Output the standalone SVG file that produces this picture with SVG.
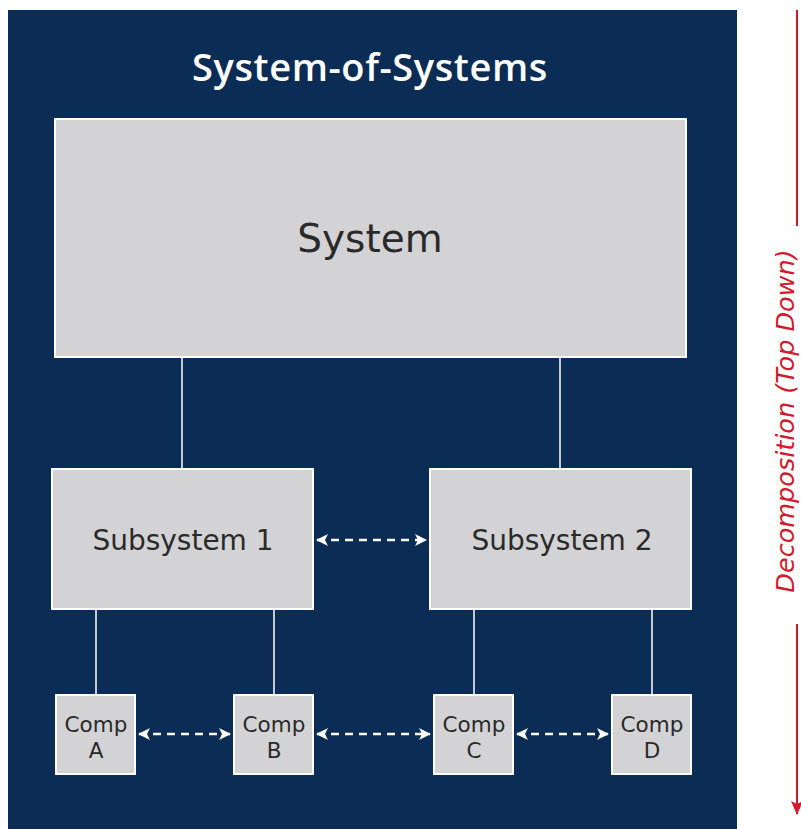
<svg xmlns="http://www.w3.org/2000/svg" width="801" height="829" viewBox="0 0 801 829">
<style>
.box{fill:#d3d3d5;stroke:#ffffff;stroke-width:2}
.lbl{font-family:"DejaVu Sans","Liberation Sans",sans-serif;fill:#2a2a2a;text-anchor:middle}
.conn{stroke:#ffffff;stroke-width:1.5;fill:none}
.dash{stroke:#ffffff;stroke-width:2.5;stroke-dasharray:8 6;fill:none;marker-start:url(#ah);marker-end:url(#ah)}
</style>
<defs>
<marker id="ah" viewBox="0 0 12 12" refX="11" refY="6" markerWidth="12" markerHeight="12" markerUnits="userSpaceOnUse" orient="auto-start-reverse">
<path d="M0,0 L12,6 L0,12 L3,6 Z" fill="#ffffff"/>
</marker>
<marker id="rh" viewBox="0 0 12 14" refX="6" refY="13" markerWidth="12" markerHeight="14" markerUnits="userSpaceOnUse" orient="0">
<path d="M0,0 L6,14 L12,0 L6,3 Z" fill="#d7182a"/>
</marker>
</defs>
<rect width="801" height="829" fill="#ffffff"/>
<g id="sos">
<rect x="8" y="10" width="729" height="819" fill="#0b2c54"/>
<text x="370" y="81" font-family="'Open Sans','DejaVu Sans',sans-serif" font-weight="600" font-size="38" letter-spacing="0.6" fill="#ffffff" text-anchor="middle">System-of-Systems</text>
</g>
<g id="connectors">
<line class="conn" x1="182" y1="357" x2="182" y2="469"/>
<line class="conn" x1="560" y1="357" x2="560" y2="469"/>
<line class="conn" x1="96" y1="609" x2="96" y2="695"/>
<line class="conn" x1="274" y1="609" x2="274" y2="695"/>
<line class="conn" x1="474" y1="609" x2="474" y2="695"/>
<line class="conn" x1="652" y1="609" x2="652" y2="695"/>
<line class="dash" x1="317" y1="540" x2="426" y2="540"/>
<line class="dash" x1="139" y1="734" x2="230" y2="734"/>
<line class="dash" x1="317" y1="734" x2="430" y2="734"/>
<line class="dash" x1="517" y1="734" x2="608" y2="734"/>
</g>
<g id="system">
<rect class="box" x="55" y="119" width="631" height="238"/>
<text class="lbl" x="370" y="252" font-size="39">System</text>
</g>
<g id="subsystem1">
<rect class="box" x="52" y="469" width="261" height="140"/>
<text class="lbl" x="183" y="550" font-size="28">Subsystem 1</text>
</g>
<g id="subsystem2">
<rect class="box" x="430" y="469" width="261" height="140"/>
<text class="lbl" x="562" y="550" font-size="28">Subsystem 2</text>
</g>
<g id="compA">
<rect class="box" x="56" y="695" width="79" height="79"/>
<text class="lbl" font-size="21.5"><tspan x="96" y="732">Comp</tspan><tspan x="96" y="758">A</tspan></text>
</g>
<g id="compB">
<rect class="box" x="234" y="695" width="79" height="79"/>
<text class="lbl" font-size="21.5"><tspan x="274" y="732">Comp</tspan><tspan x="274" y="758">B</tspan></text>
</g>
<g id="compC">
<rect class="box" x="434" y="695" width="79" height="79"/>
<text class="lbl" font-size="21.5"><tspan x="474" y="732">Comp</tspan><tspan x="474" y="758">C</tspan></text>
</g>
<g id="compD">
<rect class="box" x="612" y="695" width="79" height="79"/>
<text class="lbl" font-size="21.5"><tspan x="652" y="732">Comp</tspan><tspan x="652" y="758">D</tspan></text>
</g>
<g id="decomposition">
<line x1="797" y1="10" x2="797" y2="226" stroke="#d7182a" stroke-width="2"/>
<line x1="797" y1="624" x2="797" y2="814" stroke="#d7182a" stroke-width="2" marker-end="url(#rh)"/>
<text transform="translate(794,421) rotate(-90)" font-family="'DejaVu Sans','Liberation Sans',sans-serif" font-style="italic" font-size="25.5" fill="#d7182a" text-anchor="middle">Decomposition (Top Down)</text>
</g>
</svg>
